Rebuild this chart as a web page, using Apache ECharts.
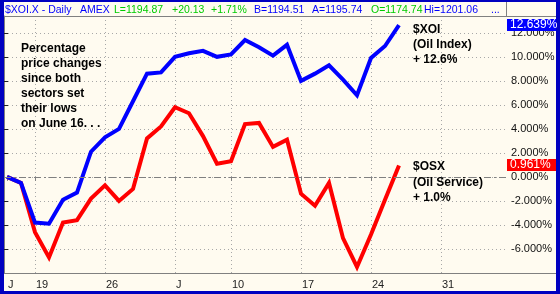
<!DOCTYPE html>
<html>
<head>
<meta charset="utf-8">
<script src="https://cdn.jsdelivr.net/npm/echarts@6/dist/echarts.min.js"></script>
<style>
  html, body { margin: 0; padding: 0; background: #ffffff; }
  #wrap { position: relative; width: 560px; height: 294px; background: #0000C0; overflow: hidden; }
  #inner { position: absolute; left: 4px; top: 2px; width: 552px; height: 289px; background: #FFFBF0; }
  #chart { position: absolute; left: 0; top: 0; width: 560px; height: 294px; }
</style>
</head>
<body>
<div id="wrap"><div id="inner"></div><div id="chart"></div></div>
<script>
// ---- data ----
const dates = ['Jun 15','Jun 16','Jun 19','Jun 20','Jun 21','Jun 22','Jun 23','Jun 26','Jun 27','Jun 28','Jun 29','Jun 30',
  'Jul 3','Jul 5','Jul 6','Jul 7','Jul 10','Jul 11','Jul 12','Jul 13','Jul 14','Jul 17','Jul 18','Jul 19','Jul 20','Jul 21',
  'Jul 24','Jul 25','Jul 26','Jul 27','Jul 28','Jul 31','Aug 1','Aug 2','Aug 3','Aug 4'];
const xoi = [0, -0.5, -3.8, -3.9, -1.9, -1.3, 2.1, 3.3, 4.0, 6.3, 8.6, 8.7, 10.0, 10.3, 10.5, 10.0, 10.2, 11.4, 10.8, 10.1, 11.0,
  8.0, 8.6, 9.3, 8.1, 6.8, 9.9, 10.9, 12.639];
const osx = [0, -0.5, -4.6, -6.7, -3.8, -3.6, -1.8, -0.7, -2.0, -1.0, 3.2, 4.2, 5.8, 5.3, 3.4, 1.1, 1.3, 4.4, 4.5, 2.5, 3.1,
  -1.4, -2.4, -0.5, -5.1, -7.5, -4.8, -1.9, 0.961];
const tickDates = ['Jun 15','Jun 19','Jun 26','Jul 3','Jul 10','Jul 17','Jul 24','Jul 31'];
const tickLabels = ['J','19','26','J','10','17','24','31'];
const yMin = -8, yMax = 13.4, yStep = 2;
const headerTexts = ['$XOI.X - Daily','AMEX','L=1194.87','+20.13','+1.71%','B=1194.51','A=1195.74','O=1174.74','Hi=1201.06','...'];
const headerKinds = ['b','b','g','g','g','b','b','g','b','b'];
const noteText = 'Percentage\nprice changes\nsince both\nsectors set\ntheir lows\non June 16. . .';
const xoiNote = '$XOI\n(Oil Index)\n+ 12.6%';
const osxNote = '$OSX\n(Oil Service)\n+ 1.0%';

// ---- layout / style ----
const headerX = [5, 80, 114, 172, 211, 254, 312, 371, 424, 491];
const BLUE = '#0000FF', RED = '#FF0000', GREEN = '#00CC00', HBLUE = '#0000FF';
const FONT = '"Liberation Sans", Arial, sans-serif';
const GRID_TOP = 16, GRID_BOTTOM = 21;

const isTick = (v) => tickDates.indexOf(v) >= 0;

const chart = echarts.init(document.getElementById('chart'), null, { renderer: 'canvas' });

const baseOption = {
  backgroundColor: 'transparent',
  animation: false,
  grid: [
    { left: 7, right: 63, top: GRID_TOP, bottom: GRID_BOTTOM, containLabel: false },
    { left: 4, right: 54, top: GRID_TOP, bottom: GRID_BOTTOM, containLabel: false }
  ],
  xAxis: [
    {
      type: 'category', gridIndex: 0, data: dates, boundaryGap: false,
      axisLine: { show: false },
      axisTick: { show: true, length: 4, interval: (i, v) => isTick(v), lineStyle: { color: '#808080' } },
      axisLabel: {
        interval: (i, v) => isTick(v),
        formatter: (v) => tickLabels[tickDates.indexOf(v)],
        align: 'left', margin: 6, color: '#222', fontSize: 11, fontFamily: FONT, padding: [0, 0, 0, 1]
      },
      splitLine: { show: true, interval: (i, v) => isTick(v) && i > 0, lineStyle: { color: '#A8A8A8', type: [1, 3], width: 1 } }
    },
    { type: 'value', gridIndex: 1, min: 0, max: 1, show: false }
  ],
  yAxis: [
    { type: 'value', gridIndex: 0, min: yMin, max: yMax, interval: yStep, show: false, splitLine: { show: false } },
    {
      type: 'value', gridIndex: 1, position: 'right', min: yMin, max: yMax, interval: yStep,
      axisLine: { show: true, lineStyle: { color: '#808080', width: 1 } },
      axisTick: { show: true, length: 4, lineStyle: { color: '#222' } },
      axisLabel: {
        show: true, margin: 5, color: '#111', fontSize: 11, fontFamily: FONT,
        showMinLabel: false, showMaxLabel: false,
        formatter: (v) => v.toFixed(3) + '%'
      },
      splitLine: { show: true, lineStyle: { color: '#A8A8A8', type: [1, 3], width: 1 } }
    }
  ],
  series: [
    {
      name: 'zero', type: 'line', xAxisIndex: 1, yAxisIndex: 1, data: [[0, 0]], symbol: 'none',
      lineStyle: { width: 0 }, silent: true,
      markLine: {
        silent: true, symbol: ['none', 'none'], label: { show: false },
        lineStyle: { color: '#808080', type: [7, 3, 2, 3], width: 1 },
        data: [{ yAxis: 0 }]
      }
    },
    {
      name: '$OSX', type: 'line', xAxisIndex: 0, yAxisIndex: 0, data: osx, symbol: 'none',
      lineStyle: { color: RED, width: 4, join: 'miter' }, z: 3
    },
    {
      name: '$XOI', type: 'line', xAxisIndex: 0, yAxisIndex: 0, data: xoi, symbol: 'none',
      lineStyle: { color: BLUE, width: 4, join: 'miter' }, z: 4
    }
  ]
};
chart.setOption(baseOption);

// graphics: borders, header, notes, value badges
const yBottom = 294 - GRID_BOTTOM;
const graphics = [];
graphics.push({ type: 'line', shape: { x1: 4, y1: GRID_TOP + 0.5, x2: 556, y2: GRID_TOP + 0.5 }, style: { stroke: '#808080', lineWidth: 1 }, z: 10 });
graphics.push({ type: 'line', shape: { x1: 4, y1: yBottom + 0.5, x2: 556, y2: yBottom + 0.5 }, style: { stroke: '#808080', lineWidth: 1 }, z: 10 });
graphics.push({ type: 'line', shape: { x1: 506.5, y1: 2, x2: 506.5, y2: GRID_TOP }, style: { stroke: '#808080', lineWidth: 1 }, z: 10 });

headerTexts.forEach((t, i) => {
  graphics.push({
    type: 'text', x: headerX[i], y: 10, z: 10,
    style: { text: t, fill: headerKinds[i] === 'g' ? GREEN : HBLUE, font: '10.5px ' + FONT, align: 'left', verticalAlign: 'middle' }
  });
});

graphics.push({ type: 'text', x: 21, y: 40.8, z: 10,
  style: { text: noteText, fill: '#000', font: 'bold 12px ' + FONT, lineHeight: 15, align: 'left', verticalAlign: 'top' } });
graphics.push({ type: 'text', x: 413, y: 21.8, z: 10,
  style: { text: xoiNote, fill: '#000', font: 'bold 12px ' + FONT, lineHeight: 15, align: 'left', verticalAlign: 'top' } });
graphics.push({ type: 'text', x: 413, y: 159.2, z: 10,
  style: { text: osxNote, fill: '#000', font: 'bold 12px ' + FONT, lineHeight: 15.5, align: 'left', verticalAlign: 'top' } });

function badge(value, color) {
  const py = chart.convertToPixel({ yAxisIndex: 0 }, value);
  graphics.push({ type: 'rect', shape: { x: 507, y: Math.round(py) - 6, width: 49, height: 12 }, style: { fill: color }, z: 20 });
  graphics.push({ type: 'text', x: 510, y: Math.round(py), z: 21,
    style: { text: value.toFixed(3) + '%', fill: '#FFFFFF', font: '12px ' + FONT, align: 'left', verticalAlign: 'middle' } });
}
badge(xoi[xoi.length - 1], BLUE);
badge(osx[osx.length - 1], RED);

chart.setOption({ graphic: graphics });
</script>
</body>
</html>
